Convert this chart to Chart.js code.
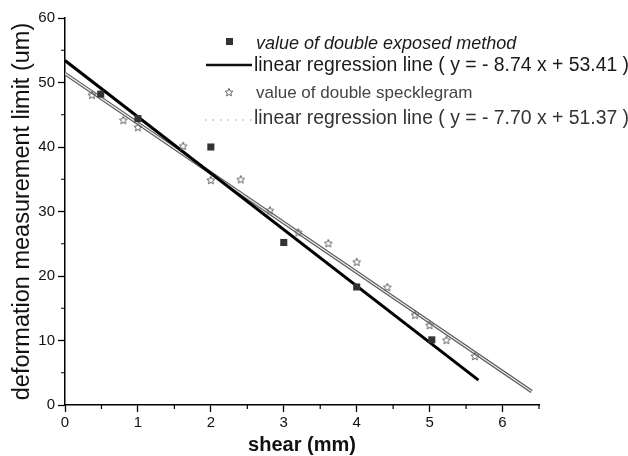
<!DOCTYPE html>
<html>
<head>
<meta charset="utf-8">
<script src="https://cdn.jsdelivr.net/npm/chart.js@4.4.1/dist/chart.umd.min.js"></script>
<style>
  html, body { margin: 0; padding: 0; background: #fff; }
  #wrap { width: 628px; height: 456px; }
</style>
</head>
<body>
<div id="wrap"><canvas id="shearChart" width="628" height="456"></canvas></div>
<script>
// measured points, double exposed method
const exposedX = [0.49, 1.0, 2.0, 3.0, 4.0, 5.03];
const exposedY = [48.2, 44.4, 40.0, 25.2, 18.3, 10.1];

// measured points, double specklegram
const speckleX = [0.37, 0.80, 1.0, 1.62, 2.0, 2.41, 2.81, 3.2, 3.61, 4.0, 4.42, 4.80, 5.0, 5.23, 5.62];
const speckleY = [48.1, 44.2, 43.1, 40.2, 34.9, 35.0, 30.2, 26.8, 25.1, 22.2, 18.3, 14.0, 12.4, 10.1, 7.6];

// regression line end points
const fit1X = [0, 5.67];
const fit1Y = [53.41, 3.85];
const fit2X = [0, 6.4];
const fit2Y = [51.37, 2.09];

// axes
const xMajorTicks = [0, 1, 2, 3, 4, 5, 6];
const xMinorTicks = [0.5, 1.5, 2.5, 3.5, 4.5, 5.5, 6.5];
const yMinorTicks = [5, 15, 25, 35, 45, 55];

const legendLabels = [
    'value of double exposed method',
    'linear regression line ( y = - 8.74 x + 53.41 )',
    'value of double specklegram',
    'linear regression line ( y = - 7.70 x + 51.37 )'
];

const FONT = "'Liberation Sans', Arial, sans-serif";

function toPoints(xs, ys) {
    return xs.map((x, i) => ({ x: x, y: ys[i] }));
}

function makeStar(size, color) {
    const c = document.createElement('canvas');
    c.width = size;
    c.height = size;
    const g = c.getContext('2d');
    const r = size / 2 - 0.8, ri = r * 0.45, cx = size / 2, cy = size / 2 + 0.5;
    g.beginPath();
    for (let i = 0; i < 10; i++) {
        const a = -Math.PI / 2 + i * Math.PI / 5;
        const rr = i % 2 ? ri : r;
        g.lineTo(cx + rr * Math.cos(a), cy + rr * Math.sin(a));
    }
    g.closePath();
    g.strokeStyle = color;
    g.lineWidth = 1;
    g.stroke();
    return c;
}

const starImg = makeStar(10, '#666');

const minorTicks = {
    id: 'minorTicks',
    afterDraw(chart) {
        const { ctx, scales: { x, y } } = chart;
        ctx.save();
        ctx.strokeStyle = '#000';
        ctx.lineWidth = 1.2;
        ctx.beginPath();
        xMinorTicks.forEach(v => {
            const px = x.getPixelForValue(v);
            ctx.moveTo(px, y.bottom);
            ctx.lineTo(px, y.bottom + 4);
        });
        yMinorTicks.forEach(v => {
            const py = y.getPixelForValue(v);
            ctx.moveTo(x.left, py);
            ctx.lineTo(x.left - 4, py);
        });
        ctx.stroke();
        ctx.restore();
    }
};

const plotLegend = {
    id: 'plotLegend',
    afterDraw(chart) {
        const ctx = chart.ctx;
        ctx.save();
        ctx.textBaseline = 'alphabetic';
        ctx.textAlign = 'left';

        // square
        ctx.fillStyle = '#333';
        ctx.fillRect(226, 38, 7, 7);
        ctx.font = 'italic 18px ' + FONT;
        ctx.fillStyle = '#1a1a1a';
        ctx.fillText(legendLabels[0], 256, 49);

        // solid line
        ctx.strokeStyle = '#111';
        ctx.lineWidth = 2.5;
        ctx.beginPath();
        ctx.moveTo(206, 65);
        ctx.lineTo(252, 65);
        ctx.stroke();
        ctx.font = '19.4px ' + FONT;
        ctx.fillText(legendLabels[1], 254, 71);

        // star
        ctx.drawImage(starImg, 224, 87);
        ctx.font = '17px ' + FONT;
        ctx.fillStyle = '#444';
        ctx.fillText(legendLabels[2], 256, 98);

        // dotted line
        ctx.strokeStyle = '#999';
        ctx.lineWidth = 1.2;
        ctx.setLineDash([1.5, 6]);
        ctx.beginPath();
        ctx.moveTo(205, 120);
        ctx.lineTo(252, 120);
        ctx.stroke();
        ctx.setLineDash([]);
        ctx.font = '19.4px ' + FONT;
        ctx.fillStyle = '#333';
        ctx.fillText(legendLabels[3], 254, 124);
        ctx.restore();
    }
};

const ctx = document.getElementById('shearChart').getContext('2d');
const shearChart = new Chart(ctx, {
    type: 'scatter',
    plugins: [minorTicks, plotLegend],
    data: {
        datasets: [
            {
                label: legendLabels[0],
                data: toPoints(exposedX, exposedY),
                pointStyle: 'rect',
                pointRadius: 5,
                backgroundColor: '#333',
                borderColor: '#333',
                borderWidth: 0
            },
            {
                label: legendLabels[2],
                data: toPoints(speckleX, speckleY),
                pointStyle: starImg,
                pointRadius: 5
            },
            {
                label: legendLabels[1],
                data: toPoints(fit1X, fit1Y),
                showLine: true,
                borderColor: '#000',
                borderWidth: 3,
                pointRadius: 0
            },
            {
                label: 'fit2 inner',
                data: toPoints(fit2X, fit2Y),
                showLine: true,
                borderColor: '#e6e6e6',
                borderWidth: 1.4,
                pointRadius: 0
            },
            {
                label: legendLabels[3],
                data: toPoints(fit2X, fit2Y),
                showLine: true,
                borderColor: '#555',
                borderWidth: 3.6,
                pointRadius: 0
            }
        ]
    },
    options: {
        responsive: false,
        animation: false,
        events: [],
        layout: {
            padding: { top: 18, right: 89, left: 0, bottom: 0 }
        },
        plugins: {
            legend: { display: false },
            tooltip: { enabled: false }
        },
        scales: {
            x: {
                type: 'linear',
                min: 0,
                max: 6.5,
                afterFit: function(scale) { scale.height = 51; },
                afterBuildTicks: function(scale) {
                    scale.ticks = xMajorTicks.map(v => ({ value: v }));
                },
                border: { display: true, color: '#000', width: 1.5 },
                grid: {
                    drawOnChartArea: false,
                    drawTicks: true,
                    tickLength: 7,
                    tickColor: '#000',
                    tickWidth: 1.3
                },
                ticks: {
                    padding: 2,
                    color: '#111',
                    maxRotation: 0,
                    font: { family: FONT, size: 15 }
                },
                title: {
                    display: true,
                    text: 'shear (mm)',
                    color: '#111',
                    padding: { top: 0, bottom: 0 },
                    font: { family: FONT, size: 20, weight: 'bold', lineHeight: 1.1 }
                }
            },
            y: {
                type: 'linear',
                min: 0,
                max: 60,
                afterFit: function(scale) { scale.width = 65; },
                border: { display: true, color: '#000', width: 1.5 },
                grid: {
                    drawOnChartArea: false,
                    drawTicks: true,
                    tickLength: 7,
                    tickColor: '#000',
                    tickWidth: 1.3
                },
                ticks: {
                    stepSize: 10,
                    padding: 3,
                    color: '#111',
                    font: { family: FONT, size: 15 }
                },
                title: {
                    display: true,
                    text: 'deformation measurement limit (um)',
                    color: '#111',
                    padding: { top: 8, bottom: 0 },
                    font: { family: FONT, size: 23.5, lineHeight: 1.2 }
                }
            }
        }
    }
});
</script>
</body>
</html>
